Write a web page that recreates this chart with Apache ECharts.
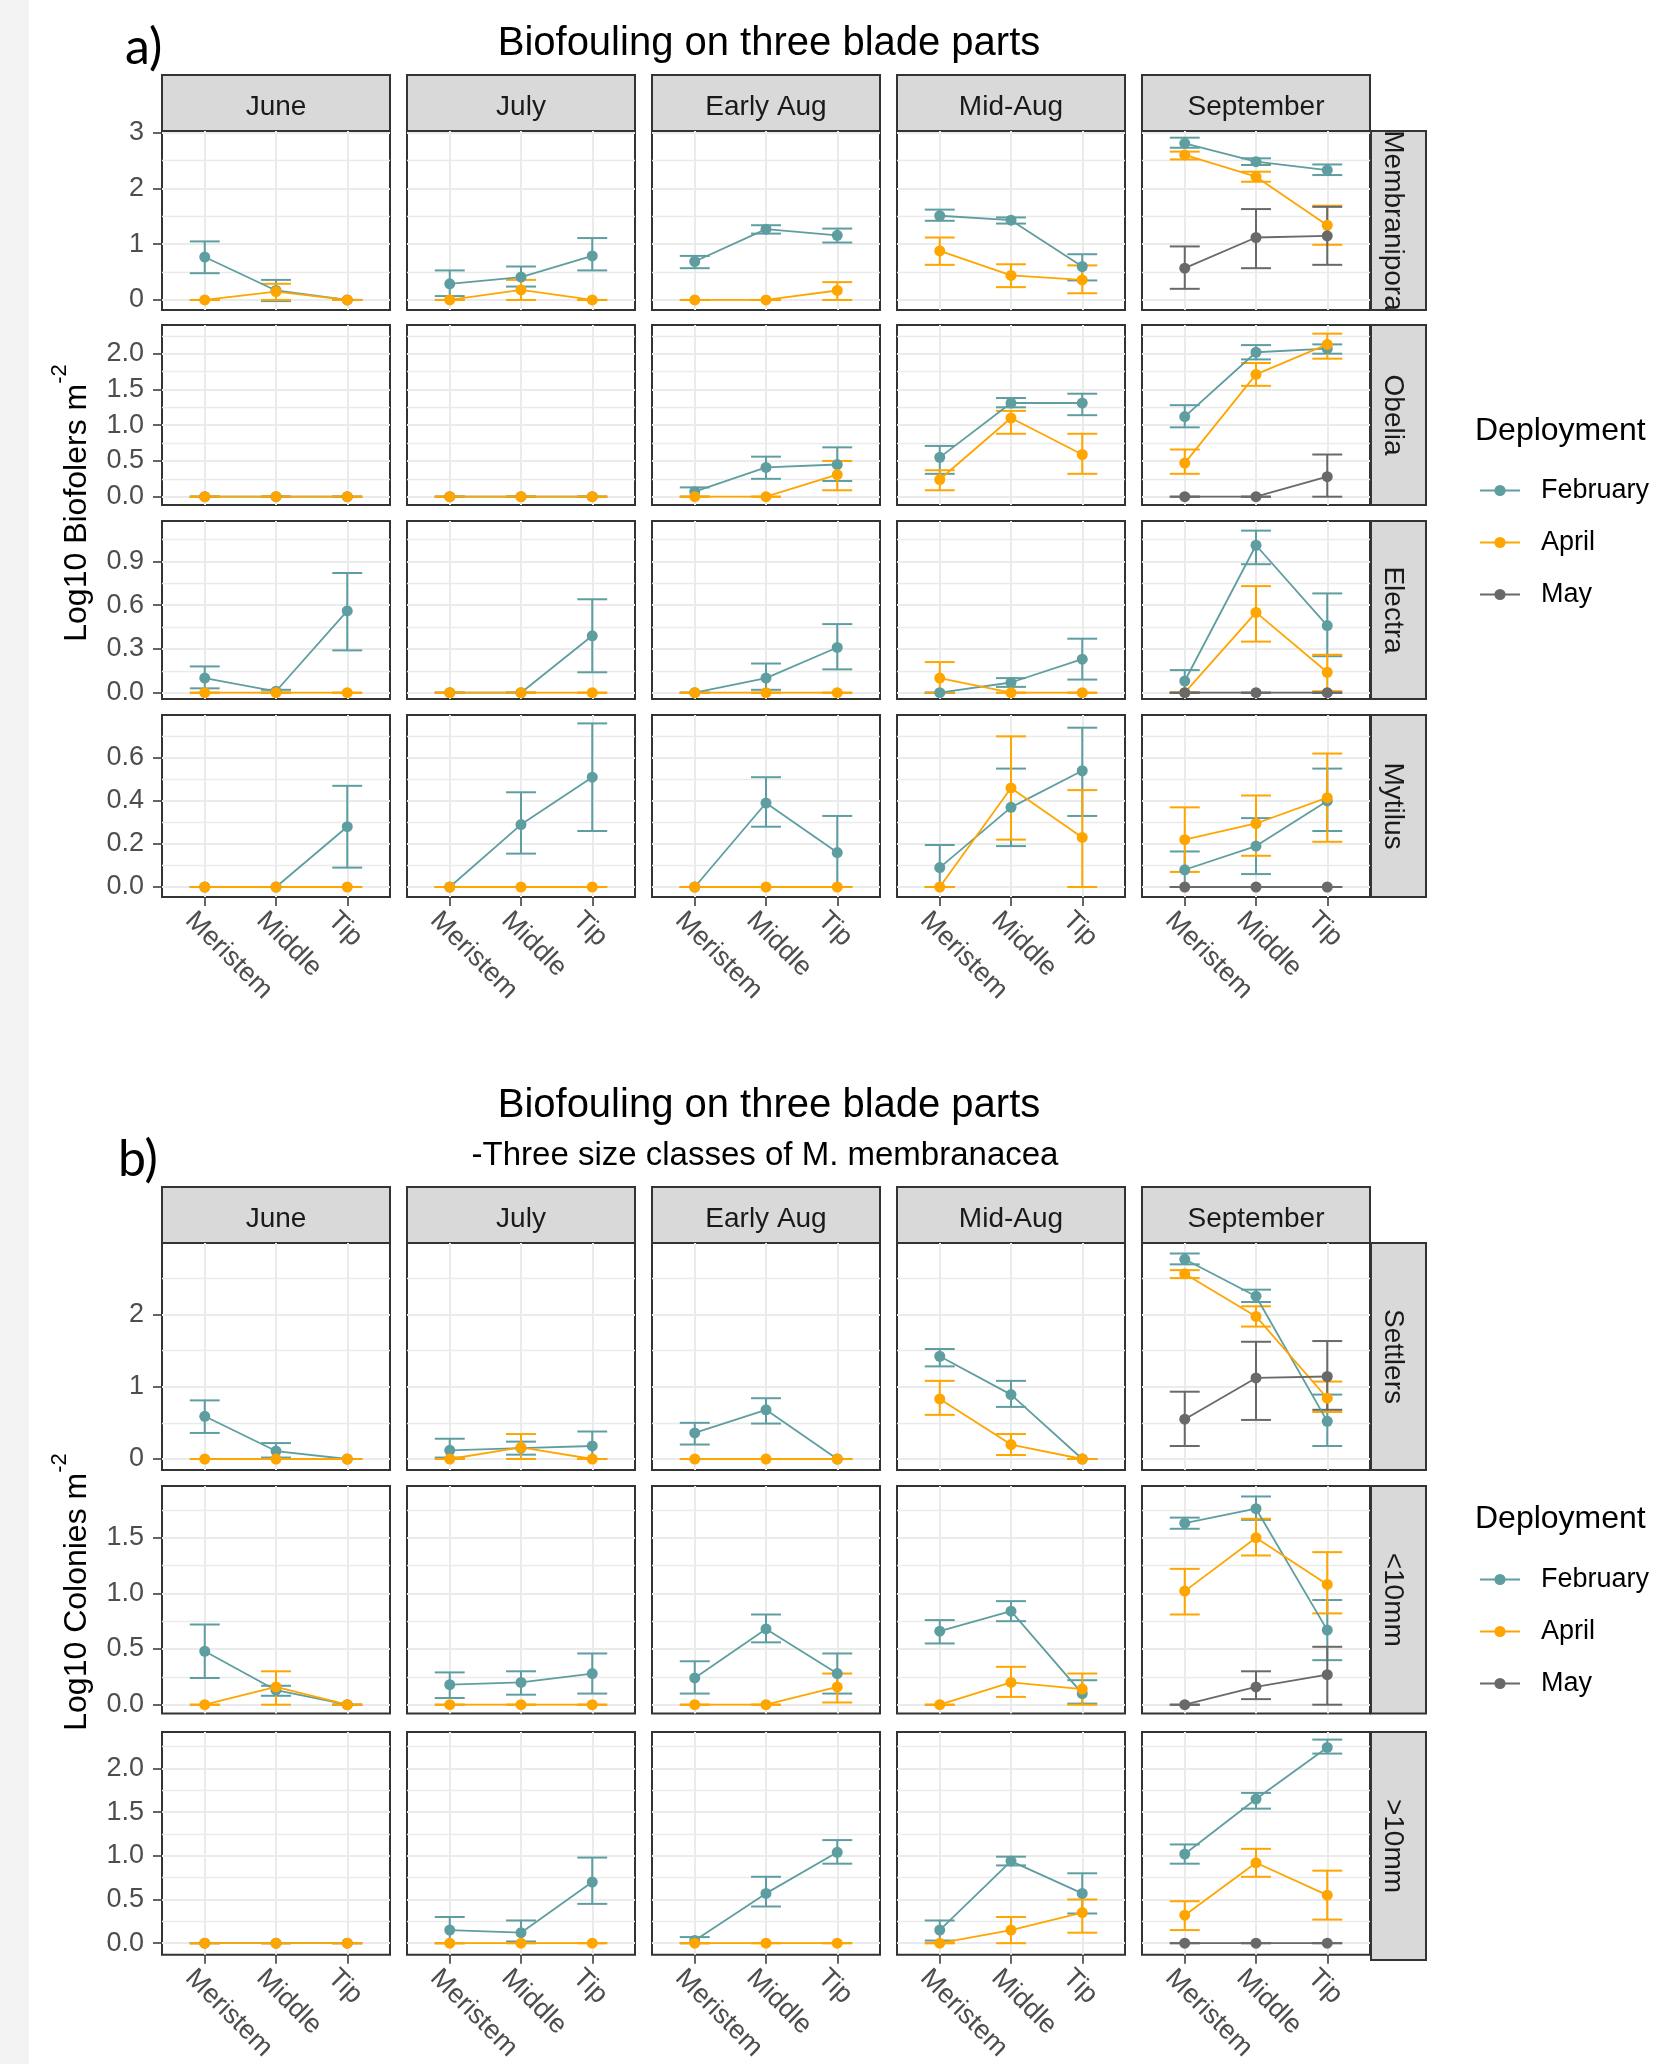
<!DOCTYPE html>
<html><head><meta charset="utf-8">
<script src="https://cdn.jsdelivr.net/npm/echarts@6/dist/echarts.min.js"></script>
<style>
html,body{margin:0;padding:0;}
body{background:linear-gradient(to right,#f3f3f3 0,#f3f3f3 29px,#ffffff 29px);}
#c{width:1680px;height:2064px;}
</style></head><body><div id="c"></div>
<script>
// ---------------- DATA ----------------
const parts = ['Meristem', 'Middle', 'Tip'];
const months = ['June', 'July', 'Early Aug', 'Mid-Aug', 'September'];
const deployments = ['February', 'April', 'May'];
const taxaA = ['Membranipora', 'Obelia', 'Electra', 'Mytilus'];
const sizeB = ['Settlers', '<10mm', '>10mm'];

// each array: months x parts x [mean, lower, upper]  (log10 scale)
const MEMB_FEB = [
  [[0.77,0.48,1.05],[0.17,-0.02,0.36],[0,0,0]],
  [[0.29,0.07,0.53],[0.41,0.24,0.60],[0.79,0.53,1.11]],
  [[0.69,0.57,0.79],[1.27,1.19,1.34],[1.16,1.03,1.28]],
  [[1.51,1.42,1.62],[1.43,1.37,1.48],[0.60,0.35,0.82]],
  [[2.81,2.73,2.91],[2.48,2.42,2.54],[2.33,2.24,2.43]]
];
const MEMB_APR = [
  [[0,0,0],[0.15,0.00,0.29],[0,0,0]],
  [[0,0,0],[0.18,0.00,0.36],[0,0,0]],
  [[0,0,0],[0,0,0],[0.17,0.00,0.32]],
  [[0.88,0.63,1.12],[0.44,0.23,0.64],[0.36,0.12,0.62]],
  [[2.60,2.52,2.66],[2.21,2.12,2.30],[1.34,0.99,1.69]]
];
const MEMB_MAY = [null, null, null, null,
  [[0.57,0.20,0.96],[1.12,0.57,1.63],[1.15,0.63,1.67]]];

const OBEL_FEB = [
  [[0,0,0],[0,0,0],[0,0,0]],
  [[0,0,0],[0,0,0],[0,0,0]],
  [[0.07,0.00,0.13],[0.41,0.25,0.56],[0.45,0.22,0.69]],
  [[0.55,0.32,0.71],[1.31,1.25,1.38],[1.31,1.14,1.44]],
  [[1.12,0.97,1.28],[2.02,1.92,2.12],[2.07,2.00,2.13]]
];
const OBEL_APR = [
  [[0,0,0],[0,0,0],[0,0,0]],
  [[0,0,0],[0,0,0],[0,0,0]],
  [[0,0,0],[0,0,0],[0.31,0.09,0.50]],
  [[0.24,0.09,0.37],[1.10,0.88,1.20],[0.59,0.32,0.88]],
  [[0.47,0.32,0.66],[1.71,1.55,1.87],[2.13,1.93,2.28]]
];
const OBEL_MAY = [null, null, null, null,
  [[0,0,0],[0,0,0],[0.28,0.00,0.59]]];

const ELEC_FEB = [
  [[0.10,0.03,0.18],[0.01,0.00,0.02],[0.56,0.29,0.82]],
  [[0,0,0],[0,0,0],[0.39,0.14,0.64]],
  [[0,0,0],[0.10,0.02,0.20],[0.31,0.16,0.47]],
  [[0,0,0],[0.07,0.04,0.10],[0.23,0.09,0.37]],
  [[0.08,0.00,0.155],[1.01,0.88,1.11],[0.46,0.25,0.68]]
];
const ELEC_APR = [
  [[0,0,0],[0,0,0],[0,0,0]],
  [[0,0,0],[0,0,0],[0,0,0]],
  [[0,0,0],[0,0,0],[0,0,0]],
  [[0.10,0.00,0.21],[0,0,0],[0,0,0]],
  [[0,0,0],[0.55,0.35,0.73],[0.14,0.01,0.26]]
];
const ELEC_MAY = [null, null, null, null,
  [[0,0,0],[0,0,0],[0,0,0]]];

const MYTI_FEB = [
  [[0,0,0],[0,0,0],[0.28,0.09,0.47]],
  [[0,0,0],[0.29,0.155,0.44],[0.51,0.26,0.76]],
  [[0,0,0],[0.39,0.28,0.51],[0.16,0.00,0.33]],
  [[0.09,0.00,0.195],[0.37,0.19,0.55],[0.54,0.33,0.74]],
  [[0.08,0.00,0.165],[0.19,0.06,0.32],[0.40,0.26,0.55]]
];
const MYTI_APR = [
  [[0,0,0],[0,0,0],[0,0,0]],
  [[0,0,0],[0,0,0],[0,0,0]],
  [[0,0,0],[0,0,0],[0,0,0]],
  [[0,0,0],[0.46,0.22,0.70],[0.23,0.00,0.45]],
  [[0.22,0.07,0.37],[0.295,0.145,0.425],[0.415,0.21,0.62]]
];
const MYTI_MAY = [null, null, null, null,
  [[0,0,0],[0,0,0],[0,0,0]]];

const SETT_FEB = [
  [[0.59,0.36,0.81],[0.11,0.02,0.22],[0,0,0]],
  [[0.12,0.02,0.28],[0.15,0.06,0.24],[0.18,0.00,0.38]],
  [[0.36,0.20,0.50],[0.68,0.49,0.84],[0,0,0]],
  [[1.42,1.28,1.52],[0.89,0.72,1.08],[0,0,0]],
  [[2.76,2.69,2.84],[2.25,2.17,2.34],[0.52,0.18,0.89]]
];
const SETT_APR = [
  [[0,0,0],[0,0,0],[0,0,0]],
  [[0,0,0],[0.16,0.00,0.345],[0,0,0]],
  [[0,0,0],[0,0,0],[0,0,0]],
  [[0.83,0.61,1.08],[0.20,0.055,0.345],[0,0,0]],
  [[2.56,2.50,2.61],[1.97,1.83,2.11],[0.84,0.65,1.07]]
];
const SETT_MAY = [null, null, null, null,
  [[0.55,0.18,0.93],[1.12,0.54,1.62],[1.14,0.68,1.63]]];

const SMALL_FEB = [
  [[0.48,0.24,0.72],[0.13,0.08,0.17],[0,0,0]],
  [[0.18,0.06,0.29],[0.20,0.09,0.30],[0.28,0.10,0.46]],
  [[0.24,0.10,0.39],[0.68,0.56,0.81],[0.28,0.10,0.46]],
  [[0.66,0.55,0.76],[0.84,0.75,0.93],[0.10,0.01,0.22]],
  [[1.63,1.58,1.68],[1.76,1.66,1.87],[0.67,0.40,0.94]]
];
const SMALL_APR = [
  [[0,0,0],[0.16,0.00,0.30],[0,0,0]],
  [[0,0,0],[0,0,0],[0,0,0]],
  [[0,0,0],[0,0,0],[0.16,0.02,0.28]],
  [[0,0,0],[0.20,0.07,0.34],[0.14,0.00,0.28]],
  [[1.02,0.81,1.22],[1.50,1.34,1.67],[1.08,0.82,1.37]]
];
const SMALL_MAY = [null, null, null, null,
  [[0,0,0],[0.16,0.05,0.30],[0.27,0.00,0.52]]];

const LARGE_FEB = [
  [[0,0,0],[0,0,0],[0,0,0]],
  [[0.15,0.00,0.30],[0.12,0.02,0.26],[0.70,0.45,0.98]],
  [[0.03,0.00,0.07],[0.57,0.42,0.76],[1.04,0.91,1.18]],
  [[0.15,0.03,0.26],[0.94,0.89,0.99],[0.57,0.34,0.80]],
  [[1.02,0.91,1.13],[1.65,1.54,1.72],[2.24,2.17,2.33]]
];
const LARGE_APR = [
  [[0,0,0],[0,0,0],[0,0,0]],
  [[0,0,0],[0,0,0],[0,0,0]],
  [[0,0,0],[0,0,0],[0,0,0]],
  [[0,0,0],[0.15,0.00,0.30],[0.35,0.12,0.50]],
  [[0.32,0.15,0.48],[0.92,0.76,1.08],[0.55,0.27,0.83]]
];
const LARGE_MAY = [null, null, null, null,
  [[0,0,0],[0,0,0],[0,0,0]]];

// y tick values and labels per facet row
const TICKS_MEMB = [0, 1, 2, 3];            const LABELS_MEMB = ['0', '1', '2', '3'];
const TICKS_OBEL = [0, 0.5, 1, 1.5, 2];     const LABELS_OBEL = ['0.0', '0.5', '1.0', '1.5', '2.0'];
const TICKS_ELEC = [0, 0.3, 0.6, 0.9];      const LABELS_ELEC = ['0.0', '0.3', '0.6', '0.9'];
const TICKS_MYTI = [0, 0.2, 0.4, 0.6];      const LABELS_MYTI = ['0.0', '0.2', '0.4', '0.6'];
const TICKS_SETT = [0, 1, 2];               const LABELS_SETT = ['0', '1', '2'];
const TICKS_SMALL = [0, 0.5, 1, 1.5];       const LABELS_SMALL = ['0.0', '0.5', '1.0', '1.5'];
const TICKS_LARGE = [0, 0.5, 1, 1.5, 2];    const LABELS_LARGE = ['0.0', '0.5', '1.0', '1.5', '2.0'];

// ---------------- LAYOUT / STYLE ----------------
const FF = '"Liberation Sans", Arial, sans-serif';
const COLORS = ['#5F9EA0', '#FFA500', '#696969'];
const colLeft = [162, 407, 652, 897, 1142];
const colW = 228;
const stripRightLeft = 1371, stripRightW = 55;

const sectionA = {
  stripTop: 75, stripH: 56,
  rows: [
    {label: taxaA[0], top: 131, h: 179, range: [-0.18, 3.03], ticks: TICKS_MEMB, labels: LABELS_MEMB, d: [MEMB_FEB, MEMB_APR, MEMB_MAY]},
    {label: taxaA[1], top: 325, h: 180, range: [-0.116, 2.401], ticks: TICKS_OBEL, labels: LABELS_OBEL, d: [OBEL_FEB, OBEL_APR, OBEL_MAY]},
    {label: taxaA[2], top: 521, h: 178, range: [-0.043, 1.176], ticks: TICKS_ELEC, labels: LABELS_ELEC, d: [ELEC_FEB, ELEC_APR, ELEC_MAY]},
    {label: taxaA[3], top: 715, h: 182, range: [-0.0465, 0.799], ticks: TICKS_MYTI, labels: LABELS_MYTI, d: [MYTI_FEB, MYTI_APR, MYTI_MAY]}
  ]
};
const sectionB = {
  stripTop: 1187, stripH: 56,
  rows: [
    {label: sizeB[0], top: 1243, h: 227, range: [-0.152, 2.985], ticks: TICKS_SETT, labels: LABELS_SETT, d: [SETT_FEB, SETT_APR, SETT_MAY]},
    {label: sizeB[1], top: 1486, h: 227.5, range: [-0.079, 1.964], ticks: TICKS_SMALL, labels: LABELS_SMALL, d: [SMALL_FEB, SMALL_APR, SMALL_MAY]},
    {label: sizeB[2], top: 1732, h: 228, range: [-0.131, 2.417], ticks: TICKS_LARGE, labels: LABELS_LARGE, d: [LARGE_FEB, LARGE_APR, LARGE_MAY]}
  ]
};

const option = {
  animation: false,
  backgroundColor: 'transparent',
  textStyle: {fontFamily: FF},
  grid: [], xAxis: [], yAxis: [], series: [], title: [], legend: []
};

function addGrid(g, xa, ya) {
  option.grid.push(g);
  const i = option.grid.length - 1;
  xa.gridIndex = i; ya.gridIndex = i;
  option.xAxis.push(xa); option.yAxis.push(ya);
  return i;
}

function errRender(params, api) {
  const x = api.value(0), lo = api.value(1), hi = api.value(2);
  const a = api.coord([x, lo]), b = api.coord([x, hi]);
  const hw = api.size([0.42, 0])[0] / 2;
  const style = {stroke: api.visual('color'), lineWidth: 2};
  return {type: 'group', children: [
    {type: 'line', shape: {x1: a[0], y1: a[1], x2: b[0], y2: b[1]}, style: style},
    {type: 'line', shape: {x1: a[0] - hw, y1: a[1], x2: a[0] + hw, y2: a[1]}, style: style},
    {type: 'line', shape: {x1: b[0] - hw, y1: b[1], x2: b[0] + hw, y2: b[1]}, style: style}
  ]};
}

function hiddenAxis() {
  return {type: 'value', min: 0, max: 1, axisLine: {show: false, onZero: false}, axisTick: {show: false},
    axisLabel: {show: false}, splitLine: {show: false}};
}

function buildSection(sec) {
  const nRows = sec.rows.length;
  // top strips
  months.forEach((m, c) => {
    const xa = hiddenAxis();
    Object.assign(xa, {name: m, nameLocation: 'middle', nameGap: -sec.stripH / 2 + 4,
      nameTextStyle: {fontSize: 28, color: '#1a1a1a', fontFamily: FF, align: 'center', verticalAlign: 'middle'}});
    addGrid({left: colLeft[c], top: sec.stripTop, width: colW, height: sec.stripH, show: true,
      backgroundColor: '#d9d9d9', borderColor: '#333333', borderWidth: 2}, xa, Object.assign(hiddenAxis(), {show: false}));
  });
  sec.rows.forEach((row, r) => {
    const isBottom = r === nRows - 1;
    const step = row.ticks[1] - row.ticks[0];
    const minors = [row.ticks[0] - step / 2].concat(row.ticks.map(t => t + step / 2))
      .filter(v => v > row.range[0] && v < row.range[1]);
    // right strip
    const ya = hiddenAxis();
    Object.assign(ya, {position: 'left', name: row.label, nameLocation: 'middle', nameRotate: -90,
      nameGap: -stripRightW / 2 + 6,
      nameTextStyle: {fontSize: 28, color: '#1a1a1a', fontFamily: FF, align: 'center', verticalAlign: 'middle'}});
    addGrid({left: stripRightLeft, top: row.top, width: stripRightW, height: row.h, show: true,
      backgroundColor: '#d9d9d9', borderColor: '#333333', borderWidth: 2}, Object.assign(hiddenAxis(), {show: false}), ya);

    months.forEach((m, c) => {
      const isLeft = c === 0;
      const idx = addGrid(
        {left: colLeft[c], top: row.top, width: colW, height: row.h, show: true,
          backgroundColor: '#ffffff', borderColor: '#333333', borderWidth: 2},
        {type: 'value', min: 0.4, max: 3.6, axisLine: {show: false, onZero: false}, splitLine: {show: false},
          axisTick: {show: isBottom, customValues: [1, 2, 3], length: 9, lineStyle: {color: '#333333', width: 1.5}},
          axisLabel: {show: isBottom, customValues: [1, 2, 3], formatter: v => parts[Math.round(v) - 1],
            rotate: -45, align: 'left', verticalAlign: 'top', margin: 4, padding: [8, 0, 0, 0],
            fontSize: 27, color: '#4d4d4d', fontFamily: FF}},
        {type: 'value', min: row.range[0], max: row.range[1], axisLine: {show: false, onZero: false}, splitLine: {show: false},
          axisTick: {show: isLeft, customValues: row.ticks, length: 9, lineStyle: {color: '#333333', width: 1.5}},
          axisLabel: {show: isLeft, customValues: row.ticks, margin: 18, fontSize: 27, color: '#4d4d4d', fontFamily: FF,
            padding: [5, 0, 0, 0],
            formatter: v => { const k = row.ticks.findIndex(t => Math.abs(t - v) < 1e-6); return k >= 0 ? row.labels[k] : ''; }}}
      );
      // grid lines through the library's scales
      const ml = [];
      minors.forEach(v => ml.push({yAxis: v, lineStyle: {color: '#ebebeb', width: 1.4, type: 'solid'}}));
      row.ticks.forEach(v => ml.push({yAxis: v, lineStyle: {color: '#ebebeb', width: 2, type: 'solid'}}));
      [1, 2, 3].forEach(v => ml.push({xAxis: v, lineStyle: {color: '#ebebeb', width: 2, type: 'solid'}}));
      option.series.push({type: 'line', name: 'grid', xAxisIndex: idx, yAxisIndex: idx, data: [[0.4, 0]],
        symbol: 'none', lineStyle: {opacity: 0}, silent: true, z: 1,
        markLine: {silent: true, symbol: ['none', 'none'], label: {show: false}, animation: false, z: 1, data: ml}});
      // series
      row.d.forEach((arr, di) => {
        const md = arr[c];
        if (!md) return;
        option.series.push({type: 'line', name: deployments[di], xAxisIndex: idx, yAxisIndex: idx,
          data: md.map((p, i) => [i + 1, p[0]]), symbol: 'circle', symbolSize: 11, showSymbol: true,
          lineStyle: {color: COLORS[di], width: 1.8}, itemStyle: {color: COLORS[di]}, z: 10, silent: true,
          emphasis: {disabled: true}});
        option.series.push({type: 'custom', name: deployments[di] + ' SE', xAxisIndex: idx, yAxisIndex: idx,
          data: md.map((p, i) => [i + 1, p[1], p[2]]), renderItem: errRender, itemStyle: {color: COLORS[di]},
          encode: {x: 0, y: [1, 2]}, z: 10, silent: true});
      });
    });
  });
}

buildSection(sectionA);
buildSection(sectionB);

// y axis titles (invisible full-height grids)
function yTitle(top, h, main) {
  const ya = hiddenAxis();
  Object.assign(ya, {name: '{a|' + main + '}{b|-2}', nameLocation: 'middle', nameGap: 69,
    nameTextStyle: {rich: {
      a: {fontSize: 32, color: '#000', fontFamily: FF, lineHeight: 44, verticalAlign: 'bottom'},
      b: {fontSize: 22, color: '#000', fontFamily: FF, lineHeight: 22, verticalAlign: 'top'}}}});
  addGrid({left: 162, top: top, width: 10, height: h, show: false}, Object.assign(hiddenAxis(), {show: false}), ya);
}
yTitle(131, 744, 'Log10 Biofolers m');
yTitle(1243, 698, 'Log10 Colonies m');

// titles
const tstyle = (sz, fam) => ({fontSize: sz, color: '#000', fontWeight: 'normal', fontFamily: fam || FF});
option.title.push({text: 'Biofouling on three blade parts', left: 769, top: 44, textAlign: 'center', textVerticalAlign: 'middle', padding: 0, textStyle: tstyle(40)});
option.title.push({text: 'Biofouling on three blade parts', left: 769, top: 1106, textAlign: 'center', textVerticalAlign: 'middle', padding: 0, textStyle: tstyle(40)});
option.title.push({text: '-Three size classes of M. membranacea', left: 765, top: 1156, textAlign: 'center', textVerticalAlign: 'middle', padding: 0, textStyle: tstyle(33)});
option.title.push({text: 'a)', left: 125, top: 48, textAlign: 'left', textVerticalAlign: 'middle', padding: 0, textStyle: tstyle(50, 'Lato, "Open Sans", sans-serif')});
option.title.push({text: 'b)', left: 118, top: 1160, textAlign: 'left', textVerticalAlign: 'middle', padding: 0, textStyle: tstyle(50, 'Lato, "Open Sans", sans-serif')});
option.title.push({text: 'Deployment', left: 1475, top: 431, textAlign: 'left', textVerticalAlign: 'middle', padding: 0, textStyle: tstyle(32)});
option.title.push({text: 'Deployment', left: 1475, top: 1519, textAlign: 'left', textVerticalAlign: 'middle', padding: 0, textStyle: tstyle(32)});

// legends
[477, 1566].forEach(t => option.legend.push({
  data: deployments, orient: 'vertical', left: 1479, top: t, itemWidth: 40, itemHeight: 14, itemGap: 25,
  padding: 0, selectedMode: false,
  textStyle: {fontSize: 27, color: '#000', fontFamily: FF, padding: [0, 0, 0, 16]}
}));

const chart = echarts.init(document.getElementById('c'), null, {renderer: 'canvas'});
chart.setOption(option);
</script>
</body></html>
